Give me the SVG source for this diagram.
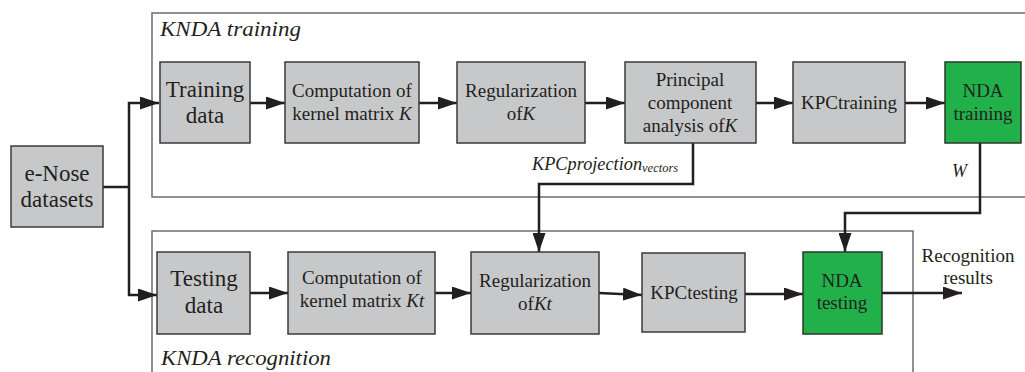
<svg xmlns="http://www.w3.org/2000/svg" width="1025" height="372" viewBox="0 0 1025 372">
<style>
.bg{fill:#ffffff}
.cont{fill:none;stroke:#6d6e70;stroke-width:1.5}
.box{fill:#c7c8ca;stroke:#3a3a3a;stroke-width:1.5}
.green{fill:#22b04b;stroke:#2a3a2a;stroke-width:1.5}
.t{font-family:"Liberation Serif","Times New Roman",serif;fill:#231f20;text-anchor:middle}
.big{font-size:23px}
.mid{font-size:19px}
.lbl{font-family:"Liberation Serif","Times New Roman",serif;fill:#231f20;font-style:italic}
.conn{fill:none;stroke:#231f20;stroke-width:2.5}
</style>
<defs>
<marker id="arr" markerUnits="userSpaceOnUse" markerWidth="19" markerHeight="13" refX="19" refY="6.5" orient="auto">
<path d="M0,0 L19,6.5 L0,13 z" fill="#231f20"/>
</marker>
</defs>
<rect class="bg" x="0" y="0" width="1025" height="372"/>

<g id="container-training">
<rect class="cont" x="152" y="13" width="890" height="184"/>
<text class="lbl" x="160" y="36" font-size="21" textLength="141" lengthAdjust="spacingAndGlyphs">KNDA training</text>
</g>
<g id="container-recognition">
<rect class="cont" x="152" y="231" width="761" height="160"/>
<text class="lbl" x="161" y="365" font-size="21" textLength="170" lengthAdjust="spacingAndGlyphs">KNDA recognition</text>
</g>

<g id="connectors">
<path class="conn" d="M103,187 H129"/>
<path class="conn" d="M129,187 V103 H159" marker-end="url(#arr)"/>
<path class="conn" d="M129,187 V295 H157" marker-end="url(#arr)"/>
<path class="conn" d="M250,103 H285" marker-end="url(#arr)"/>
<path class="conn" d="M419,103 H457" marker-end="url(#arr)"/>
<path class="conn" d="M585,103 H625" marker-end="url(#arr)"/>
<path class="conn" d="M756,103 H793" marker-end="url(#arr)"/>
<path class="conn" d="M905,103 H945" marker-end="url(#arr)"/>
<path class="conn" d="M693,143 V184 H539 V252" marker-end="url(#arr)"/>
<path class="conn" d="M980,143 V213 H845 V252" marker-end="url(#arr)"/>
<path class="conn" d="M250,293 H288" marker-end="url(#arr)"/>
<path class="conn" d="M435,293 H471" marker-end="url(#arr)"/>
<path class="conn" d="M599,293 L642,295" marker-end="url(#arr)"/>
<path class="conn" d="M745,294 H803" marker-end="url(#arr)"/>
<path class="conn" d="M882,293 H962" marker-end="url(#arr)"/>
<text class="lbl" x="532" y="170" font-size="18.3">KPCprojection<tspan font-size="12.5" dy="2">vectors</tspan></text>
<text class="lbl" x="952" y="177" font-size="18">W</text>
</g>

<g id="node-enose">
<rect class="box" x="11" y="146" width="92" height="81"/>
<text class="t big" x="57" y="181">e-Nose</text>
<text class="t big" x="57" y="207">datasets</text>
</g>

<g id="node-training-data">
<rect class="box" x="160" y="62" width="90" height="81"/>
<text class="t big" x="205" y="97">Training</text>
<text class="t big" x="205" y="123">data</text>
</g>
<g id="node-kernel-K">
<rect class="box" x="285" y="62" width="134" height="81"/>
<text class="t mid" x="352" y="97">Computation of</text>
<text class="t mid" x="352" y="120">kernel matrix <tspan font-style="italic">K</tspan></text>
</g>
<g id="node-reg-K">
<rect class="box" x="457" y="62" width="128" height="81"/>
<text class="t mid" x="521" y="97">Regularization</text>
<text class="t mid" x="521" y="120">of<tspan font-style="italic">K</tspan></text>
</g>
<g id="node-pca">
<rect class="box" x="625" y="62" width="131" height="81"/>
<text class="t mid" x="690" y="86">Principal</text>
<text class="t mid" x="690" y="109">component</text>
<text class="t mid" x="690" y="132">analysis of<tspan font-style="italic">K</tspan></text>
</g>
<g id="node-kpctraining">
<rect class="box" x="793" y="62" width="112" height="81"/>
<text class="t mid" x="849" y="109">KPCtraining</text>
</g>
<g id="node-nda-training">
<rect class="green" x="945" y="62" width="76" height="81"/>
<text class="t mid" x="983" y="97">NDA</text>
<text class="t mid" x="983" y="120">training</text>
</g>

<g id="node-testing-data">
<rect class="box" x="157" y="252" width="93" height="82"/>
<text class="t big" x="204" y="286">Testing</text>
<text class="t big" x="204" y="313">data</text>
</g>
<g id="node-kernel-Kt">
<rect class="box" x="288" y="252" width="147" height="82"/>
<text class="t mid" x="362" y="284">Computation of</text>
<text class="t mid" x="362" y="307">kernel matrix <tspan font-style="italic">Kt</tspan></text>
</g>
<g id="node-reg-Kt">
<rect class="box" x="471" y="252" width="128" height="82"/>
<text class="t mid" x="535" y="287">Regularization</text>
<text class="t mid" x="535" y="310">of<tspan font-style="italic">Kt</tspan></text>
</g>
<g id="node-kpctesting">
<rect class="box" x="642" y="253" width="103" height="79"/>
<text class="t mid" x="694" y="299">KPCtesting</text>
</g>
<g id="node-nda-testing">
<rect class="green" x="803" y="252" width="79" height="82"/>
<text class="t mid" x="842" y="287">NDA</text>
<text class="t mid" x="842" y="309">testing</text>
</g>

<g id="label-results">
<text class="t mid" x="968" y="262">Recognition</text>
<text class="t mid" x="968" y="284">results</text>
</g>
</svg>
